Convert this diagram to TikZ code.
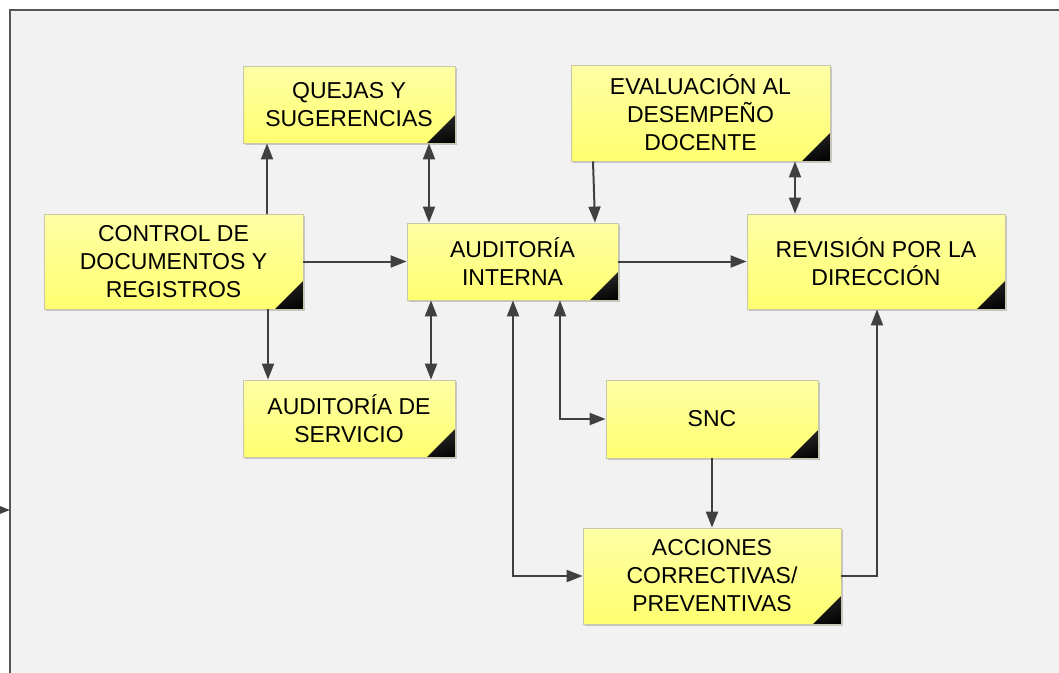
\documentclass[tikz,border=0pt]{standalone}
\usepackage{fontspec}
\setmainfont{Liberation Sans}
\usetikzlibrary{arrows.meta,shadows,shadings,calc}
\definecolor{bg}{HTML}{F2F2F2}
\definecolor{frameline}{HTML}{555555}
\definecolor{ytop}{HTML}{FFFFA6}
\definecolor{ybot}{HTML}{FFFF70}
\definecolor{yborder}{HTML}{C8C8A8}
\definecolor{conn}{HTML}{404040}
\tikzset{
  box/.style={rectangle, draw=yborder, line width=0.8pt, top color=ytop, bottom color=ybot,
    align=center, inner sep=0pt, font=\fontsize{23}{28}\selectfont,
    drop shadow={shadow xshift=2pt, shadow yshift=-2pt, opacity=0.18, fill=black},
    path picture={
      \shade[upper left=black!15, upper right=black!60, lower left=black!60, lower right=black]
        ([xshift=-28pt]path picture bounding box.south east) --
        (path picture bounding box.south east) --
        ([yshift=28pt]path picture bounding box.south east) -- cycle;
    }},
  arr/.style={draw=conn, line width=2pt, -{Triangle[length=16pt,width=12pt]}},
  darr/.style={draw=conn, line width=2pt, {Triangle[length=16pt,width=12pt]}-{Triangle[length=16pt,width=12pt]}},
}
\begin{document}
\begin{tikzpicture}[x=1pt,y=-1pt]
\useasboundingbox (0,0) rectangle (1059,672);
\clip (0,0) rectangle (1059,672);
\fill[white] (0,0) rectangle (1059,672);
\draw[frameline, fill=bg, line width=2pt] (10,10) rectangle (1080,700);
\coordinate (fl) at (10,510);
\coordinate (ext) at (-20,510);

\node[box, minimum width=212pt, minimum height=77pt] (quejas) at (349,104.5) {QUEJAS Y\\SUGERENCIAS};
\node[box, minimum width=259pt, minimum height=95pt] (control) at (173.5,261.5) {CONTROL DE\\DOCUMENTOS Y\\REGISTROS};
\node[box, minimum width=211pt, minimum height=77pt] (audint) at (512.5,261.5) {AUDITORÍA\\INTERNA};
\node[box, minimum width=259pt, minimum height=96pt] (eval) at (700.5,113) {EVALUACIÓN AL\\DESEMPEÑO\\DOCENTE};
\node[box, minimum width=258pt, minimum height=95pt] (rev) at (876,261.5) {REVISIÓN POR LA\\DIRECCIÓN};
\node[box, minimum width=212pt, minimum height=77pt] (audserv) at (349,418.5) {AUDITORÍA DE\\SERVICIO};
\node[box, minimum width=212pt, minimum height=78pt] (snc) at (712,419) {SNC};
\node[box, minimum width=258pt, minimum height=96pt] (acc) at (712,576) {ACCIONES\\CORRECTIVAS/\\PREVENTIVAS};

\coordinate (x267) at (267,0);
\coordinate (x268) at (268,0);
\coordinate (x429) at (429,0);
\coordinate (x431) at (431,0);
\coordinate (x593) at (593,0);
\coordinate (x595) at (595,0);
\coordinate (x795) at (795,0);
\coordinate (x560) at (560,0);
\coordinate (x513) at (513,0);
\coordinate (x877) at (877,0);

\draw[arr] (x267 |- control.north) -- (x267 |- quejas.south);
\draw[arr] (x268 |- control.south) -- (x268 |- audserv.north);
\draw[arr] (control.east) -- (audint.west);
\draw[darr] (x429 |- quejas.south) -- (x429 |- audint.north);
\draw[darr] (x431 |- audint.south) -- (x431 |- audserv.north);
\draw[arr] (x593 |- eval.south) -- (x595 |- audint.north);
\draw[arr] (audint.east) -- (rev.west);
\draw[darr] (x795 |- eval.south) -- (x795 |- rev.north);
\draw[darr] (x560 |- audint.south) -- (x560 |- snc.west) -- (snc.west);
\draw[darr] (x513 |- audint.south) -- (x513 |- acc.west) -- (acc.west);
\draw[arr] (snc.south) -- (acc.north);
\draw[arr] (acc.east) -- (x877 |- acc.east) -- (x877 |- rev.south);
\draw[arr] (ext) -- (fl);
\end{tikzpicture}
\end{document}
